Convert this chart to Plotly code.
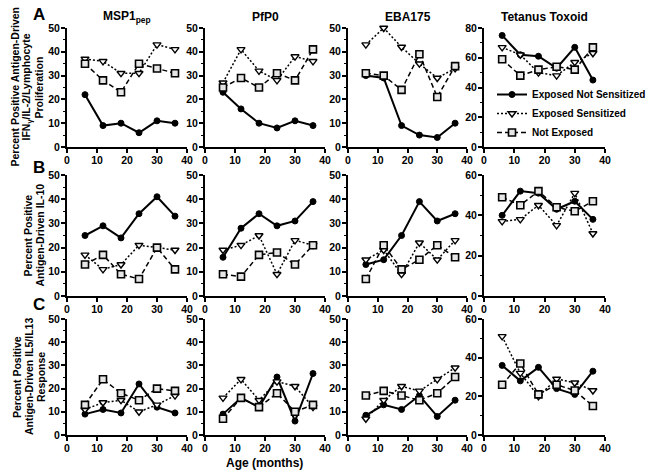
import plotly.graph_objects as go

AGE = [6, 12, 18, 24, 30, 36]
COLUMNS = ["MSP1<sub>pep</sub>", "PfP0", "EBA175", "Tetanus Toxoid"]
SERIES = ["Exposed Not Sensitized", "Exposed Sensitized", "Not Exposed"]
X_TICKS = [0, 10, 20, 30, 40]

# Row A: IFNg/IL-2/Lymphocyte proliferation
a_msp1_ens = [22, 9, 10, 6, 11, 10]
a_msp1_es = [37, 36, 31, 31, 43, 41]
a_msp1_ne = [35, 28, 23, 35, 33, 31]
a_pfp0_ens = [23, 16, 10, 8, 11, 9]
a_pfp0_es = [27, 41, 32, 28, 38, 36]
a_pfp0_ne = [25, 29, 25, 31, 28, 41]
a_eba_ens = [30, 29, 9, 5, 4, 10]
a_eba_es = [43, 50, 42, 35, 29, 33]
a_eba_ne = [31, 30, 24, 39, 21, 34]
a_tt_ens = [75, 62, 61, 53, 67, 45]
a_tt_es = [67, 62, 50, 48, 57, 63]
a_tt_ne = [59, 48, 52, 54, 52, 67]

# Row B: IL-10
b_msp1_ens = [25, 29, 24, 34, 41, 33]
b_msp1_es = [17, 11, 13, 21, 20, 19]
b_msp1_ne = [13, 17, 9, 7, 20, 11]
b_pfp0_ens = [16, 28, 34, 29, 31, 39]
b_pfp0_es = [19, 21, 25, 9, 23, 21]
b_pfp0_ne = [9, 8, 17, 18, 13, 21]
b_eba_ens = [13, 15, 25, 39, 31, 34]
b_eba_es = [15, 19, 9, 22, 15, 23]
b_eba_ne = [7, 21, 11, 15, 21, 16]
b_tt_ens = [40, 52, 51, 43, 47, 38]
b_tt_es = [37, 38, 45, 35, 51, 31]
b_tt_ne = [49, 45, 52, 44, 42, 47]

# Row C: IL5/IL13
c_msp1_ens = [9, 11, 9.5, 22, 12, 9.5]
c_msp1_es = [11, 14, 15, 10, 13, 17]
c_msp1_ne = [13, 24, 18, 15, 20, 19]
c_pfp0_ens = [9, 16, 12, 25, 6, 26.5]
c_pfp0_es = [16, 24, 15, 23, 21, 12]
c_pfp0_ne = [7, 16, 12, 18, 10, 13]
c_eba_ens = [8.5, 13, 11, 17, 8, 15]
c_eba_es = [7, 15, 21, 19, 24, 29]
c_eba_ne = [17, 19, 17, 15, 18, 25]
c_tt_ens = [36, 28, 35, 24, 21, 33]
c_tt_es = [51, 32, 20, 29, 27, 23]
c_tt_ne = [26, 37, 21, 26, 23, 15]

PANELS = [
    [(a_msp1_ens, a_msp1_es, a_msp1_ne), (a_pfp0_ens, a_pfp0_es, a_pfp0_ne),
     (a_eba_ens, a_eba_es, a_eba_ne), (a_tt_ens, a_tt_es, a_tt_ne)],
    [(b_msp1_ens, b_msp1_es, b_msp1_ne), (b_pfp0_ens, b_pfp0_es, b_pfp0_ne),
     (b_eba_ens, b_eba_es, b_eba_ne), (b_tt_ens, b_tt_es, b_tt_ne)],
    [(c_msp1_ens, c_msp1_es, c_msp1_ne), (c_pfp0_ens, c_pfp0_es, c_pfp0_ne),
     (c_eba_ens, c_eba_es, c_eba_ne), (c_tt_ens, c_tt_es, c_tt_ne)],
]
Y_MAX = [[50, 50, 50, 80], [50, 50, 50, 60], [50, 50, 50, 60]]
ROW_TITLES = [
    ["Percent Positive Antigen-Driven", "IFN<sub>γ</sub>/IL-2/Lymphocyte", "Proliferation"],
    ["Percent Positive", "Antigen-Driven IL-10"],
    ["Percent Positive", "Antigen-Driven IL5/IL13", "Response"],
]
ROW_LETTERS = ["A", "B", "C"]

W, H = 648, 474
COL_PX = [(67, 187), (205, 325), (348, 467), (484, 605)]
ROW_PX = [(28, 147), (175, 296), (319, 435)]
TITLE_RIGHT = [38, 39, 41]

FONT = "Liberation Sans, Arial, sans-serif"
tickfont = dict(family=FONT, size=10.5, color="black", weight="bold")

STYLES = [
    dict(line=dict(color="black", width=2, dash="solid"),
         marker=dict(symbol="circle", size=6, color="black", line=dict(color="black", width=1))),
    dict(line=dict(color="black", width=1.5, dash="2px,2px"),
         marker=dict(symbol="triangle-down", size=7, color="white", line=dict(color="black", width=1.4))),
    dict(line=dict(color="black", width=1.5, dash="5px,3px"),
         marker=dict(symbol="square", size=7, color="#e6e6e6", line=dict(color="black", width=1.6))),
]

fig = go.Figure()
layout = dict(
    width=W, height=H, margin=dict(l=0, r=0, t=0, b=0, autoexpand=False),
    paper_bgcolor="white", plot_bgcolor="white",
    font=dict(family=FONT, color="black"),
)
annotations = []
k = 0
for r in range(3):
    for c in range(4):
        k += 1
        xa = "x" if k == 1 else f"x{k}"
        ya = "y" if k == 1 else f"y{k}"
        x0, x1 = COL_PX[c]
        y0, y1 = ROW_PX[r]
        ymax = Y_MAX[r][c]
        major = 20 if ymax > 50 else 10
        layout["xaxis" if k == 1 else f"xaxis{k}"] = dict(
            domain=[x0 / W, x1 / W], anchor=ya, range=[0, 40],
            tickvals=X_TICKS, ticktext=[str(v) for v in X_TICKS],
            showline=True, linecolor="black", linewidth=2,
            ticks="outside", ticklen=4, tickwidth=1.5, tickcolor="black",
            ticklabelstandoff=-2,
            showgrid=False, zeroline=False, tickfont=tickfont, automargin=False,
        )
        layout["yaxis" if k == 1 else f"yaxis{k}"] = dict(
            domain=[1 - y1 / H, 1 - y0 / H], anchor=xa, range=[0, ymax],
            dtick=major, tick0=0,
            showline=True, linecolor="black", linewidth=2,
            ticks="outside", ticklen=4, tickwidth=1.5, tickcolor="black",
            ticklabelstandoff=-1,
            minor=dict(dtick=major / 2, ticks="outside", ticklen=2.5, tickwidth=1, tickcolor="black"),
            showgrid=False, zeroline=False, tickfont=tickfont, automargin=False,
        )
        for s, vals in enumerate(PANELS[r][c]):
            st = STYLES[s]
            fig.add_trace(go.Scatter(
                x=AGE, y=vals, mode="lines+markers", name=SERIES[s],
                line=st["line"], marker=st["marker"], cliponaxis=False,
                xaxis=xa, yaxis=ya, showlegend=(r == 0 and c == 3), legendrank=s,
            ))

for c, t in enumerate(COLUMNS):
    x0, x1 = COL_PX[c]
    annotations.append(dict(text=t, x=(x0 + x1) / 2 / W, y=1 - 17 / H, xref="paper", yref="paper",
                            xanchor="center", yanchor="middle", showarrow=False,
                            font=dict(family=FONT, size=12, weight="bold", color="black")))

for r, lines in enumerate(ROW_TITLES):
    y0, y1 = ROW_PX[r]
    yc = (y0 + y1) / 2
    n = len(lines)
    centers = [TITLE_RIGHT[r] - 12 * (n - 1 - i) for i in range(n)]
    for i, ln in enumerate(lines):
        annotations.append(dict(text=ln, x=centers[i] / W, y=1 - yc / H, xref="paper", yref="paper",
                                xanchor="center", yanchor="middle", textangle=-90, showarrow=False,
                                font=dict(family=FONT, size=10.5, weight="bold", color="black")))

for r, L in enumerate(ROW_LETTERS):
    ypx = [15, 167, 304][r]
    annotations.append(dict(text=L, x=39 / W, y=1 - ypx / H, xref="paper", yref="paper",
                            xanchor="center", yanchor="middle", showarrow=False,
                            font=dict(family=FONT, size=17, weight="bold", color="black")))

annotations.append(dict(text="Age (months)", x=264 / W, y=1 - 463 / H, xref="paper", yref="paper",
                        xanchor="center", yanchor="middle", showarrow=False,
                        font=dict(family=FONT, size=12, weight="bold", color="black")))

layout["annotations"] = annotations
layout["legend"] = dict(x=492 / W, y=1 - 80 / H, xanchor="left", yanchor="top",
                        bgcolor="rgba(0,0,0,0)", borderwidth=0, itemwidth=30,
                        font=dict(family=FONT, size=10, weight="bold", color="black"),
                        tracegroupgap=0)
layout["showlegend"] = True
fig.update_layout(**layout)
fig.write_html(
    "out.html",
    config={"displayModeBar": False},
    post_script="document.body.style.margin='0';document.body.style.padding='0';document.body.style.overflow='hidden';",
)
